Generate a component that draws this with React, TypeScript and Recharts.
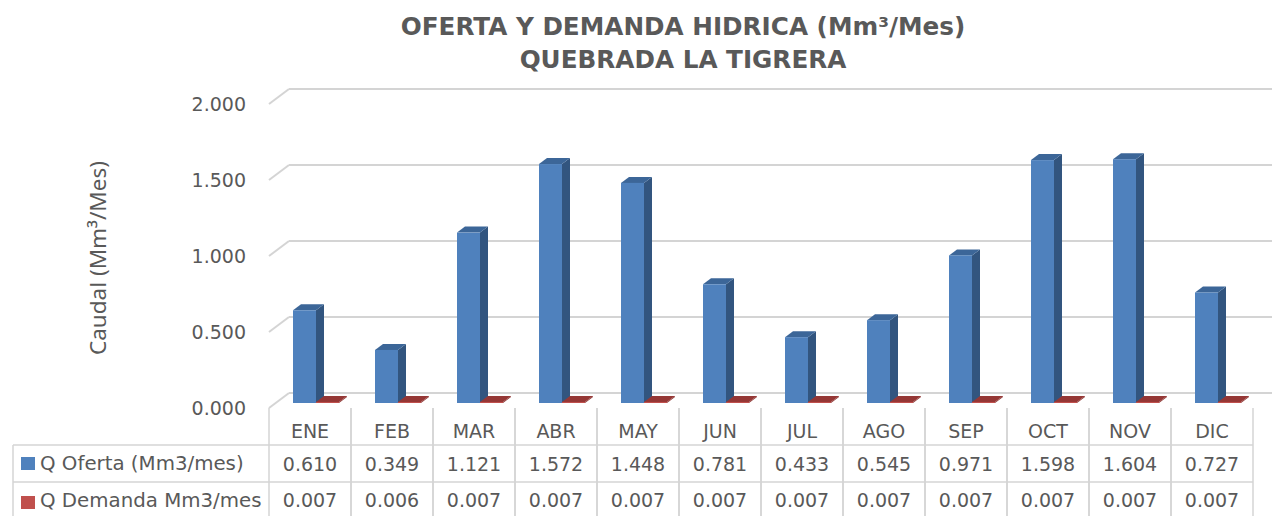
import React from 'react';
import { BarChart, Bar, XAxis, YAxis, CartesianGrid } from 'recharts';

const months = ['ENE', 'FEB', 'MAR', 'ABR', 'MAY', 'JUN', 'JUL', 'AGO', 'SEP', 'OCT', 'NOV', 'DIC'];
const oferta = [0.610, 0.349, 1.121, 1.572, 1.448, 0.781, 0.433, 0.545, 0.971, 1.598, 1.604, 0.727];
const demanda = [0.007, 0.006, 0.007, 0.007, 0.007, 0.007, 0.007, 0.007, 0.007, 0.007, 0.007, 0.007];
const yTicks = [0, 0.5, 1, 1.5, 2];
const seriesNames = ['Q Oferta (Mm3/mes)', 'Q Demanda Mm3/mes'];
const titleLines = ['OFERTA Y DEMANDA HIDRICA (Mm³/Mes)', 'QUEBRADA LA TIGRERA'];
const yLabel = 'Caudal (Mm³/Mes)';

const data = months.map((m, i) => ({ month: m, oferta: oferta[i], demanda: demanda[i] }));

const W = 1272;
const H = 516;
const PLOT_LEFT = 269;
const PLOT_RIGHT = 1253;
const PLOT_TOP = 99;
const PLOT_BOTTOM = 403;
const DEPTH_X = 20;
const FRONT_DY = 5;
const BACK_DY = -10;
const GRID = '#D4D4D4';
const TEXT = '#595959';
const FONT = 'DejaVu Sans';
const ROW1 = 445;
const ROW2 = 482;
const TABLE_LEFT = 13;

const blue = { front: '#4F81BD', side: '#32557F', top: '#3C6698' };
const red = { front: '#C0504D', side: '#8C3331', top: '#953735' };

const make3D = (c: { front: string; side: string; top: string }) => (props: any) => {
  const { x, y, width, height } = props;
  const X = x + 6;
  const dx = 8;
  const dy = -6;
  const h = Math.max(height, 1);
  const Y = y + height - h;
  return (
    <g>
      <polygon
        points={`${X + width},${Y} ${X + width + dx},${Y + dy} ${X + width + dx},${Y + h + dy} ${X + width},${Y + h}`}
        fill={c.side}
      />
      <polygon
        points={`${X},${Y} ${X + dx},${Y + dy} ${X + width + dx},${Y + dy} ${X + width},${Y}`}
        fill={c.top}
      />
      <rect x={X} y={Y} width={width} height={h} fill={c.front} />
    </g>
  );
};

const gridLine = (props: any) => {
  const { x1, x2, y1 } = props;
  return (
    <g key={props.key}>
      <line x1={x1} y1={y1 + FRONT_DY} x2={x1 + DEPTH_X} y2={y1 + BACK_DY} stroke={GRID} strokeWidth={2} />
      <line x1={x1 + DEPTH_X} y1={y1 + BACK_DY} x2={x2 + DEPTH_X} y2={y1 + BACK_DY} stroke={GRID} strokeWidth={2} />
    </g>
  );
};

const fmt = (v: number) => v.toFixed(3);

const YTick = (props: any) => {
  const { y, payload } = props;
  return (
    <text x={246} y={y + FRONT_DY} textAnchor="end" dominantBaseline="central" fill={TEXT} fontFamily={FONT} fontSize={19}>
      {fmt(payload.value)}
    </text>
  );
};

const XTick = (props: any) => {
  const { x, payload, index } = props;
  const half = (PLOT_RIGHT - PLOT_LEFT) / months.length / 2;
  const i = index ?? months.indexOf(payload.value);
  const top = PLOT_BOTTOM + FRONT_DY;
  return (
    <g>
      <line x1={x - half} y1={top} x2={x - half} y2={H + 2} stroke={GRID} strokeWidth={1.5} />
      <line x1={x + half} y1={top} x2={x + half} y2={H + 2} stroke={GRID} strokeWidth={1.5} />
      <line x1={x - half} y1={ROW1} x2={x + half} y2={ROW1} stroke={GRID} strokeWidth={1.5} />
      <line x1={x - half} y1={ROW2} x2={x + half} y2={ROW2} stroke={GRID} strokeWidth={1.5} />
      <text x={x} y={431} textAnchor="middle" dominantBaseline="central" fill={TEXT} fontFamily={FONT} fontSize={19}>
        {payload.value}
      </text>
      <text x={x} y={463.5} textAnchor="middle" dominantBaseline="central" fill={TEXT} fontFamily={FONT} fontSize={19}>
        {fmt(oferta[i])}
      </text>
      <text x={x} y={500} textAnchor="middle" dominantBaseline="central" fill={TEXT} fontFamily={FONT} fontSize={19}>
        {fmt(demanda[i])}
      </text>
      {i === 0 && (
        <g>
          <line x1={TABLE_LEFT} y1={ROW1} x2={x - half} y2={ROW1} stroke={GRID} strokeWidth={1.5} />
          <line x1={TABLE_LEFT} y1={ROW2} x2={x - half} y2={ROW2} stroke={GRID} strokeWidth={1.5} />
          <line x1={TABLE_LEFT} y1={ROW1} x2={TABLE_LEFT} y2={H + 2} stroke={GRID} strokeWidth={1.5} />
          <rect x={21} y={457} width={14} height={13} fill={blue.front} />
          <rect x={21} y={496} width={14} height={13} fill={red.front} />
          <text x={40} y={463.5} dominantBaseline="central" fill={TEXT} fontFamily={FONT} fontSize={19.8}>
            {seriesNames[0]}
          </text>
          <text x={40} y={500} dominantBaseline="central" fill={TEXT} fontFamily={FONT} fontSize={19.8}>
            {seriesNames[1]}
          </text>
        </g>
      )}
    </g>
  );
};

export default function App() {
  return (
    <div style={{ position: 'absolute', left: 0, top: 0, width: W, height: H, background: '#fff' }}>
      <BarChart
        width={W}
        height={H}
        data={data}
        margin={{ top: PLOT_TOP, right: W - PLOT_RIGHT, bottom: 0, left: 0 }}
        barGap={0}
      >
        <CartesianGrid vertical={false} horizontal={gridLine} />
        <YAxis
          type="number"
          domain={[0, 2]}
          ticks={yTicks}
          width={PLOT_LEFT}
          axisLine={false}
          tickLine={false}
          tick={YTick}
          interval={0}
        />
        <XAxis
          dataKey="month"
          height={H - PLOT_BOTTOM}
          axisLine={false}
          tickLine={false}
          tickSize={0}
          tickMargin={0}
          interval={0}
          tick={XTick}
        />
        <Bar dataKey="oferta" barSize={23} isAnimationActive={false} shape={make3D(blue)} />
        <Bar dataKey="demanda" barSize={23} isAnimationActive={false} shape={make3D(red)} />
      </BarChart>
      <svg width={W} height={H} style={{ position: 'absolute', left: 0, top: 0, pointerEvents: 'none' }}>
        <text x={683} y={35} textAnchor="middle" fill={TEXT} fontFamily={FONT} fontWeight="bold" fontSize={24.7}>
          {titleLines[0]}
        </text>
        <text x={683} y={68} textAnchor="middle" fill={TEXT} fontFamily={FONT} fontWeight="bold" fontSize={24.7}>
          {titleLines[1]}
        </text>
        <text
          x={97}
          y={258}
          transform="rotate(-90 97 258)"
          textAnchor="middle"
          dominantBaseline="central"
          fill={TEXT}
          fontFamily="Noto Sans"
          fontSize={22.5}
        >
          {yLabel}
        </text>
      </svg>
    </div>
  );
}
